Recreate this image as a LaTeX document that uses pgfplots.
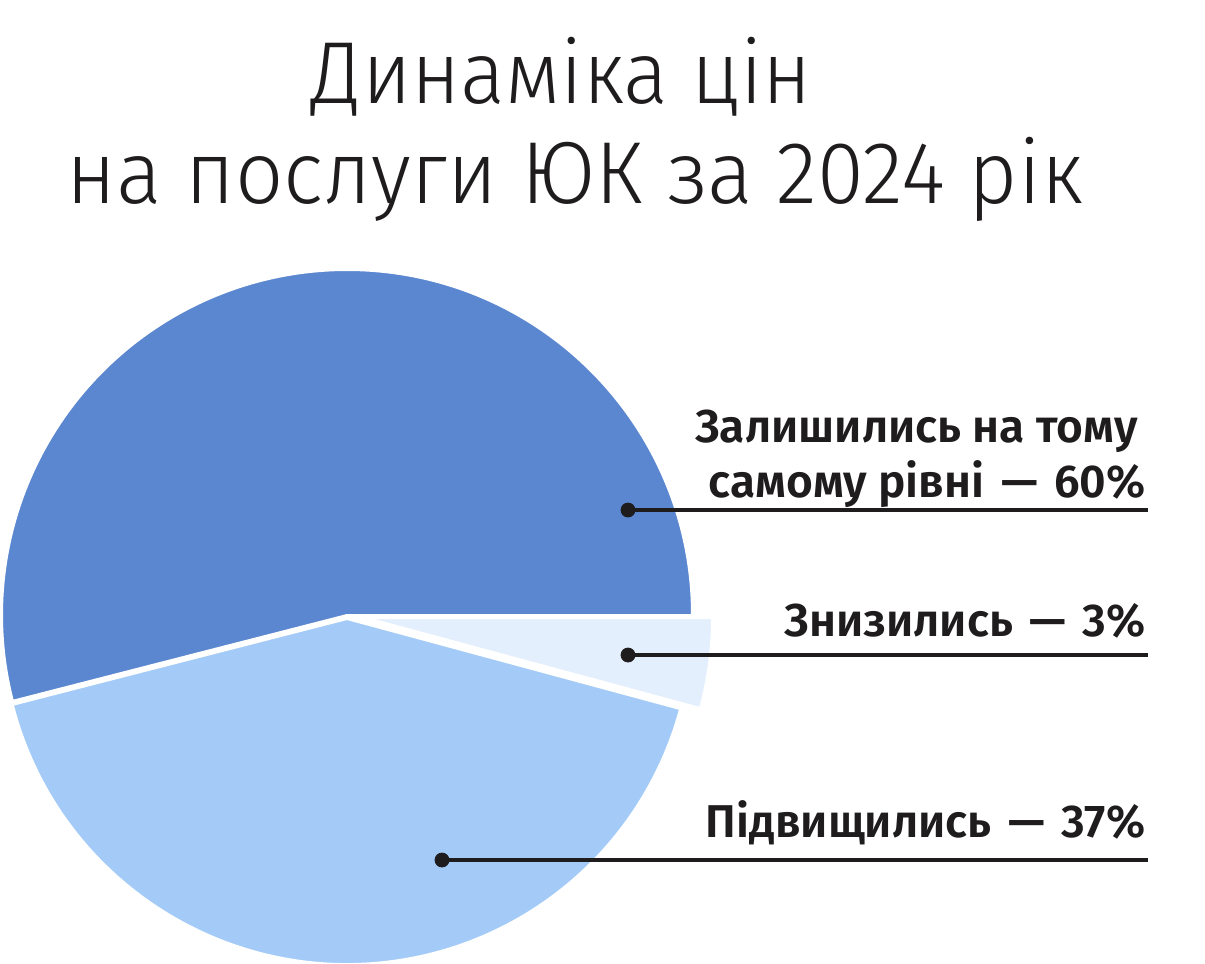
\documentclass[border=0pt]{standalone}
\usepackage{pgfplots}
\pgfplotsset{compat=1.18}
\usepackage{pgfplotstable}
\usepackage{fontspec}
\setmainfont{PT Sans}
\newfontfamily\labelfont{Fira Sans SemiBold}
\newfontfamily\titlefont{Fira Sans Light}

\definecolor{sliceA}{HTML}{5B87D0}
\definecolor{sliceB}{HTML}{A4CBF7}
\definecolor{sliceC}{HTML}{E3EFFC}
\definecolor{inkdark}{HTML}{1E1C1D}

% share in percent of the full circle, offset of the slice in px
\pgfplotstableread{
share  dx  dy
54.0   0   0
41.8   0   4
4.2    20  3
}\piedata

% pie centre and radius in px (1px = 0.5pt)
\def\pcx{347}
\def\pcy{615}
\def\prad{172.5pt}

\def\cumangle{0}
\pgfplotsforeachungrouped \i in {0,1,2}{%
  \pgfplotstablegetelem{\i}{share}\of\piedata
  \pgfmathsetmacro\sharev{\pgfplotsretval}%
  \pgfplotstablegetelem{\i}{dx}\of\piedata
  \pgfmathsetmacro\dxv{\pcx+\pgfplotsretval}%
  \pgfplotstablegetelem{\i}{dy}\of\piedata
  \pgfmathsetmacro\dyv{\pcy+\pgfplotsretval}%
  \pgfmathsetmacro\endangle{\cumangle+3.6*\sharev}%
  \expandafter\xdef\csname sa\i\endcsname{\cumangle}%
  \expandafter\xdef\csname ea\i\endcsname{\endangle}%
  \expandafter\xdef\csname cx\i\endcsname{\dxv}%
  \expandafter\xdef\csname cy\i\endcsname{\dyv}%
  \xdef\cumangle{\endangle}%
}

\newcommand\dash{\hspace{0.36em}—\hspace{0.36em}}

\begin{document}
\begin{tikzpicture}
\useasboundingbox (0,0) rectangle (602.5pt,482pt);
\begin{axis}[
    at={(0,0)}, anchor=south west,
    scale only axis,
    width=602.5pt, height=482pt,
    xmin=0, xmax=1205, ymin=0, ymax=964,
    y dir=reverse,
    hide axis,
    clip=false,
]
\pgfplotsinvokeforeach{0,1,2}{
  \fill[fill=slice\ifcase#1 A\or B\else C\fi, draw=white, line width=1pt]
    (axis cs:\csname cx#1\endcsname,\csname cy#1\endcsname)
    -- ++(\csname sa#1\endcsname:\prad)
    arc[start angle=\csname sa#1\endcsname, end angle=\csname ea#1\endcsname, radius=\prad]
    -- cycle;
}

% leader lines and dots
\addplot[inkdark, line width=2pt] coordinates {(628,510) (1148,510)};
\addplot[inkdark, line width=2pt] coordinates {(628,655) (1148,655)};
\addplot[inkdark, line width=2pt] coordinates {(442,860) (1148,860)};
\addplot[only marks, mark=*, mark size=3.5pt, inkdark]
  coordinates {(628,510) (628,655) (442,860)};

% labels
\begin{scope}[every node/.style={anchor=base east, inner sep=0pt, text=inkdark,
    font=\labelfont\fontsize{23pt}{28pt}\selectfont}]
\node at (axis cs:1138,442) {Залишились на тому};
\node at (axis cs:1146,497) {самому рівні\dash60\%};
\node at (axis cs:1146,636) {Знизились\dash3\%};
\node at (axis cs:1146,837) {Підвищились\dash37\%};
\end{scope}

% title
\begin{scope}[every node/.style={anchor=base, inner sep=0pt, text=inkdark,
    font=\titlefont\fontsize{44pt}{52pt}\selectfont}]
\node at (axis cs:562,103) {\scalebox{0.95}[1]{Динаміка цін}};
\node at (axis cs:575,203) {\scalebox{0.965}[1]{на послуги ЮК за 2024 рік}};
\end{scope}
\end{axis}
\end{tikzpicture}
\end{document}
